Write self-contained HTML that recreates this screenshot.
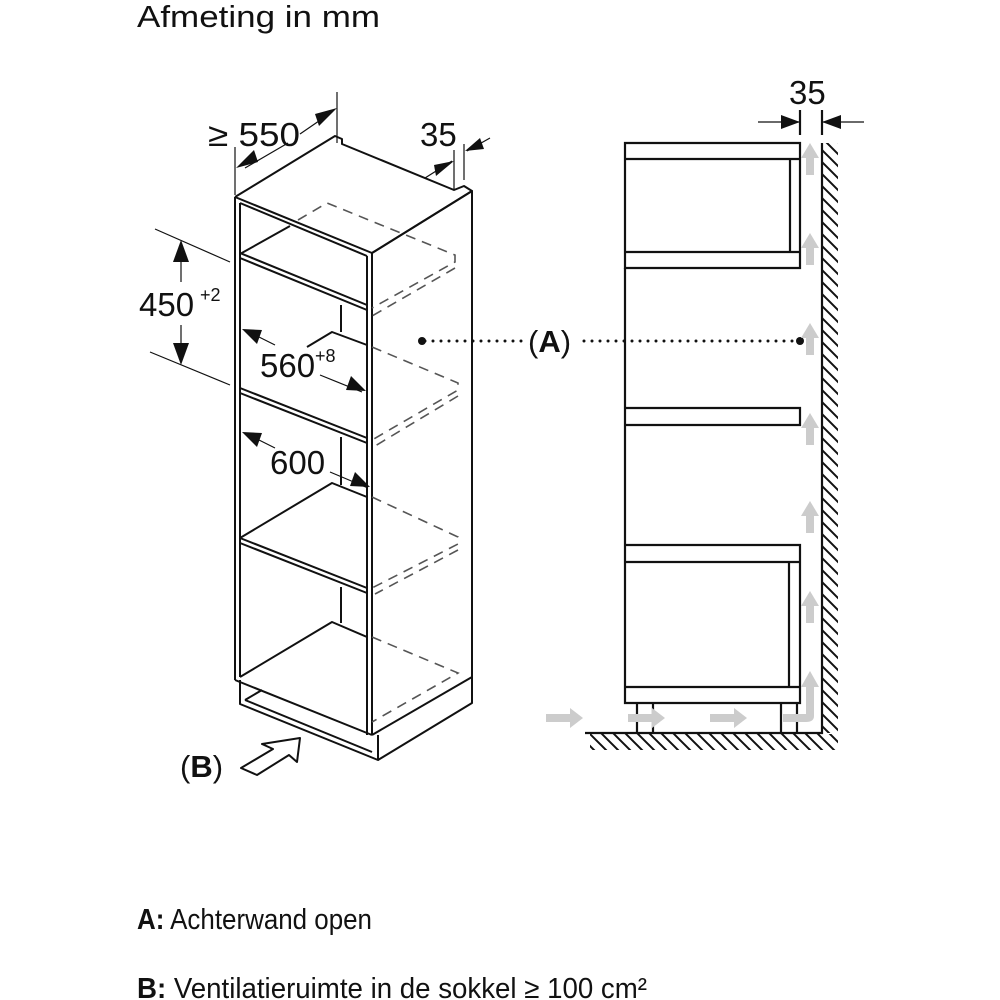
<!DOCTYPE html>
<html><head><meta charset="utf-8"><style>
html,body{margin:0;padding:0;background:#fff;}
svg{display:block;}
text{font-family:"Liberation Sans",sans-serif;fill:#111;}
</style></head><body>
<svg width="1000" height="1000" viewBox="0 0 1000 1000" xmlns="http://www.w3.org/2000/svg">
<defs>
<pattern id="hv" width="12" height="12" patternUnits="userSpaceOnUse">
<path d="M-3,-3 L15,15 M-3,9 L3,15 M9,-3 L15,3" stroke="#111" stroke-width="2"/>
</pattern>
</defs>
<text x="137" y="27" font-size="31" textLength="243" lengthAdjust="spacingAndGlyphs">Afmeting in mm</text>

<!-- LEFT CABINET -->
<g fill="none" stroke="#111" stroke-width="2" stroke-linejoin="round">
<path d="M235,197 L335,136 L342,139 L342,144 L454,190 L464,186 L472,191 L372,253"/>
<path d="M235,197 L372,253"/>
<path d="M240,203 L367,256"/>
<path d="M372,253 L472,191 L472,703 L378,760"/>
<path d="M372,735 L472,677"/>
<path d="M235,197 L235,680 M240,203 L240,677"/>
<path d="M367,256 L367,735 M372,253 L372,735"/>
<path d="M235,680 L372,735"/>
<path d="M240,253 L367,305 M240,258 L367,310"/>
<path d="M240,388 L367,438 M240,393 L367,443"/>
<path d="M240,538 L367,588 M240,543 L367,593"/>
<path d="M240,254 L290,226"/>
<path d="M307,347 L332,332 L367,345"/>
<path d="M240,538 L332,483 L367,497"/>
<path d="M240,677 L332,622 L367,637"/>
<path d="M341,305 L341,332 M341,437 L341,485 M341,587 L341,623"/>
<path d="M240,680 L240,704 L378,760 L378,735"/>
<path d="M245,700 L372,752 M245,700 L262,690"/>
</g>
<g fill="none" stroke="#555" stroke-width="1.6" stroke-dasharray="10,7">
<path d="M298,220 L327,203 L455,255 L455,262 L372,308"/>
<path d="M455,268 L372,316"/>
<path d="M372,347 L458,383 L458,390 L372,440"/>
<path d="M458,396 L375,446"/>
<path d="M372,497 L458,537 L458,544 L372,588"/>
<path d="M458,550 L375,594"/>
<path d="M372,637 L458,673 L372,722"/>
</g>

<g stroke="#111" stroke-width="1.2" fill="none">
<path d="M235,147 L235,195 M337,92 L337,143"/>
<path d="M245,168 L288,143 M300,134 L332,112"/>
<path d="M454,150 L454,189 M464,144 L464,180"/>
<path d="M425,178 L452,161 M467,151 L490,138"/>
<path d="M155,229 L230,262 M150,352 L230,385"/>
<path d="M181,245 L181,282 M181,325 L181,360"/>
<path d="M245,330 L275,345 M320,375 L362,392"/>
<path d="M245,433 L275,448 M330,472 L368,488"/>
</g>
<g fill="#111">
<path d="M236,168 L254,150 L258,162 Z"/>
<path d="M337,108 L319,126 L315,114 Z"/>
<path d="M454,161 L436,176 L434,165 Z"/>
<path d="M465,151 L480,138 L484,149 Z"/>
<path d="M181,240 L173,262 L189,262 Z"/>
<path d="M181,365 L173,343 L189,343 Z"/>
<path d="M242,329 L262,330 L257,344 Z"/>
<path d="M366,391 L346,390 L351,376 Z"/>
<path d="M242,432 L262,433 L257,447 Z"/>
<path d="M370,487 L350,486 L355,472 Z"/>
</g>
<text x="208" y="146" font-size="33" textLength="92" lengthAdjust="spacingAndGlyphs">≥ 550</text>
<text x="420" y="146" font-size="33">35</text>
<text x="139" y="316" font-size="33">450</text>
<text x="200" y="301" font-size="18">+2</text>
<text x="260" y="377" font-size="33">560</text>
<text x="315" y="362" font-size="18">+8</text>
<text x="270" y="474" font-size="33">600</text>

<path d="M425,341 L527,341 M584,341 L800,341" stroke="#111" stroke-width="3" stroke-dasharray="0,8" stroke-linecap="round" fill="none"/>
<circle cx="422" cy="341" r="4" fill="#111"/><circle cx="800" cy="341" r="4" fill="#111"/>
<text x="528" y="352" font-size="31">(<tspan font-weight="bold">A</tspan>)</text>

<text x="180" y="777" font-size="31">(<tspan font-weight="bold">B</tspan>)</text>
<path d="M300,738 L297,762 L289,755 L257,775 L241,768 L273,749 L262,744 Z" fill="#fff" stroke="#111" stroke-width="2" stroke-linejoin="round"/>

<rect x="822" y="143" width="16" height="590" fill="url(#hv)"/>
<rect x="590" y="734" width="248" height="16" fill="url(#hv)"/>
<g fill="none" stroke="#111" stroke-width="2.2">
<path d="M822,143 L822,733 L585,733"/>
<path d="M625,143 L800,143 L800,268 L625,268 Z M625,159 L800,159 M625,252 L800,252 M790,159 L790,252"/>
<path d="M625,268 L625,545"/>
<path d="M625,408 L800,408 L800,425 L625,425"/>
<path d="M625,545 L800,545 L800,703 L625,703 L625,545 M625,562 L800,562 M625,687 L800,687 M789,562 L789,687"/>
<path d="M637,703 L637,733 M653,703 L653,733 M781,703 L781,733 M797,703 L797,733"/>
<path d="M800,110 L800,135 M822,110 L822,135"/>
<path d="M758,122 L800,122 M822,122 L864,122" stroke-width="1.2"/>
</g>
<path d="M800,122 L781,115 L781,129 Z M822,122 L841,115 L841,129 Z" fill="#111"/>
<text x="789" y="104" font-size="33">35</text>
<g fill="#ccc">
<path d="M806,175 L806,158 L801,158 L810,143 L819,158 L814,158 L814,175 Z"/>
<path d="M806,265 L806,248 L801,248 L810,233 L819,248 L814,248 L814,265 Z"/>
<path d="M806,355 L806,338 L801,338 L810,323 L819,338 L814,338 L814,355 Z"/>
<path d="M806,445 L806,428 L801,428 L810,413 L819,428 L814,428 L814,445 Z"/>
<path d="M806,533 L806,516 L801,516 L810,501 L819,516 L814,516 L814,533 Z"/>
<path d="M806,623 L806,606 L801,606 L810,591 L819,606 L814,606 L814,623 Z"/>
<path d="M783,714 L806,714 L806,687 L801,687 L810,671 L819,687 L814,687 L814,716 Q814,722 806,722 L783,722 Z"/>
<path d="M546,714 L570,714 L570,708 L583,718 L570,728 L570,722 L546,722 Z"/>
<path d="M628,714 L652,714 L652,708 L665,718 L652,728 L652,722 L628,722 Z"/>
<path d="M710,714 L734,714 L734,708 L747,718 L734,728 L734,722 L710,722 Z"/>
</g>

<text x="137" y="929" font-size="29" textLength="235" lengthAdjust="spacingAndGlyphs"><tspan font-weight="bold">A:</tspan> Achterwand open</text>
<text x="137" y="998" font-size="29" textLength="510" lengthAdjust="spacingAndGlyphs"><tspan font-weight="bold">B:</tspan> Ventilatieruimte in de sokkel ≥ 100 cm²</text>
</svg>
</body></html>
